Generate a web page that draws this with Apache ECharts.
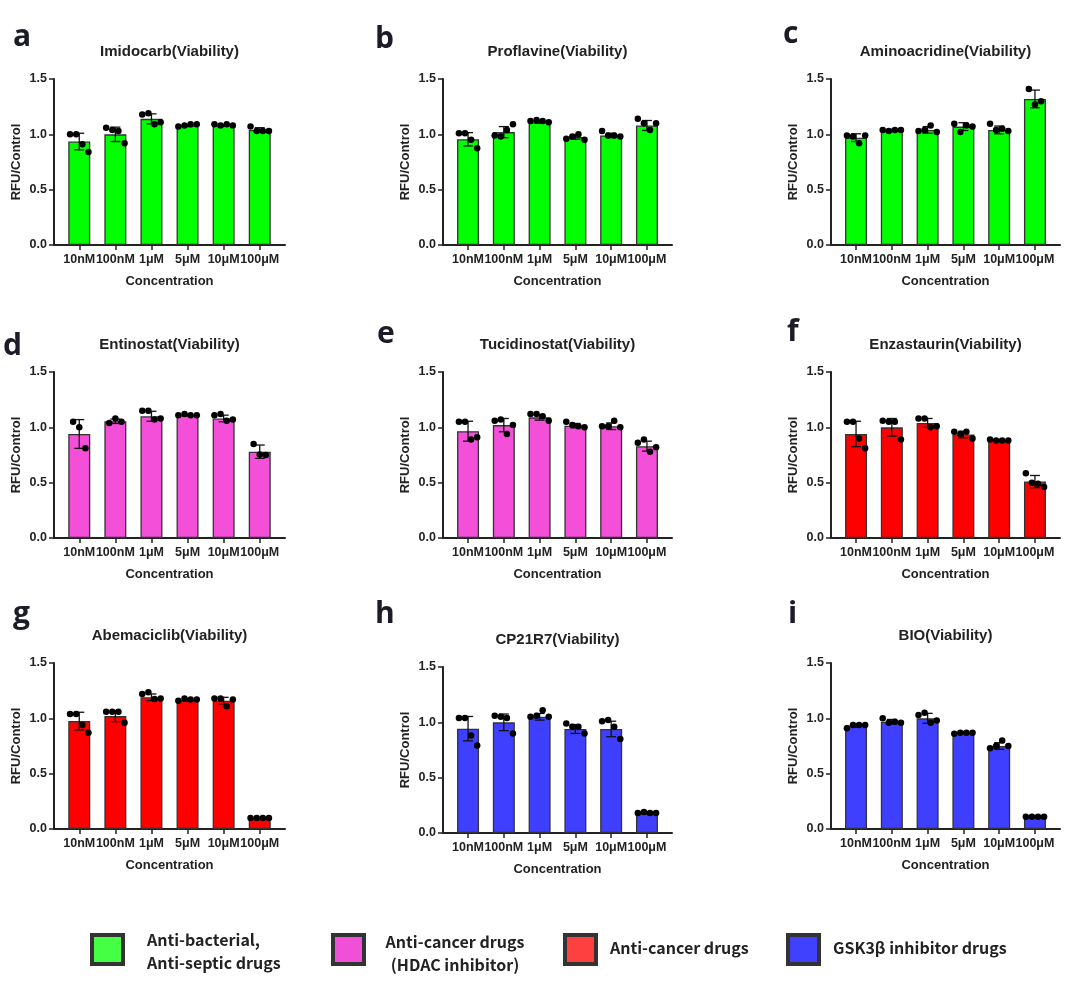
<!DOCTYPE html>
<html>
<head>
<meta charset="utf-8">
<script src="https://cdn.jsdelivr.net/npm/echarts@6/dist/echarts.min.js"></script>
<style>
  html, body { margin: 0; padding: 0; background: #fff; }
  #chart { width: 1080px; height: 1005px; }
</style>
</head>
<body>
<div id="chart"></div>
<script>
// x轴浓度
var concentrations = ['10nM', '100nM', '1μM', '5μM', '10μM', '100μM']
var yTicks = [0, 0.5, 1.0, 1.5]

// 各药物: 均值 / 标准差 / 单个复孔
var imidocarbMean = [0.935, 1.0, 1.14, 1.08, 1.08, 1.04]
var imidocarbSd = [0.075, 0.065, 0.045, 0.01, 0.008, 0.02]
var imidocarbDots = [[1.0, 1.0, 0.91, 0.84], [1.06, 1.04, 1.03, 0.92], [1.18, 1.19, 1.09, 1.11], [1.07, 1.08, 1.09, 1.09], [1.09, 1.08, 1.09, 1.08], [1.07, 1.03, 1.03, 1.03]]

var proflavineMean = [0.955, 1.02, 1.11, 0.975, 0.99, 1.08]
var proflavineSd = [0.06, 0.05, 0.01, 0.02, 0.02, 0.045]
var proflavineDots = [[1.01, 1.01, 0.95, 0.875], [0.99, 0.98, 1.04, 1.09], [1.12, 1.13, 1.12, 1.11], [0.96, 0.98, 1.0, 0.95], [1.03, 0.99, 0.99, 0.98], [1.14, 1.1, 1.04, 1.1]]

var aminoacridineMean = [0.97, 1.035, 1.04, 1.07, 1.04, 1.32]
var aminoacridineSd = [0.035, 0.01, 0.03, 0.035, 0.035, 0.08]
var aminoacridineDots = [[0.99, 0.98, 0.92, 0.99], [1.04, 1.03, 1.04, 1.04], [1.03, 1.04, 1.08, 1.02], [1.095, 1.02, 1.08, 1.07], [1.095, 1.04, 1.05, 1.03], [1.41, 1.27, 1.3]]

var entinostatMean = [0.94, 1.055, 1.1, 1.11, 1.08, 0.78]
var entinostatSd = [0.13, 0.02, 0.045, 0.008, 0.03, 0.06]
var entinostatDots = [[1.05, 1.0, 0.81], [1.04, 1.08, 1.05], [1.15, 1.15, 1.07, 1.08], [1.11, 1.12, 1.11, 1.11], [1.11, 1.12, 1.06, 1.07], [0.85, 0.755, 0.75]]

var tucidinostatMean = [0.965, 1.02, 1.09, 1.015, 1.01, 0.83]
var tucidinostatSd = [0.09, 0.06, 0.025, 0.02, 0.03, 0.045]
var tucidinostatDots = [[1.05, 1.05, 0.89, 0.91], [1.06, 1.07, 0.94, 1.02], [1.12, 1.12, 1.1, 1.06], [1.05, 1.02, 1.01, 1.0], [1.01, 1.01, 1.06, 1.0], [0.86, 0.89, 0.78, 0.82]]

var enzastaurinMean = [0.94, 1.0, 1.04, 0.935, 0.88, 0.51]
var enzastaurinSd = [0.115, 0.08, 0.04, 0.03, 0.008, 0.055]
var enzastaurinDots = [[1.05, 1.05, 0.9, 0.81], [1.06, 1.05, 1.05, 0.89], [1.08, 1.08, 1.0, 1.01], [0.96, 0.94, 0.96, 0.9], [0.89, 0.88, 0.88, 0.88], [0.585, 0.5, 0.49, 0.46]]

var abemaciclibMean = [0.975, 1.02, 1.19, 1.165, 1.16, 0.1]
var abemaciclibSd = [0.08, 0.05, 0.03, 0.01, 0.03, 0.005]
var abemaciclibDots = [[1.04, 1.04, 0.94, 0.87], [1.06, 1.06, 1.06, 0.96], [1.22, 1.235, 1.175, 1.18], [1.16, 1.18, 1.17, 1.17], [1.18, 1.18, 1.11, 1.17], [0.1, 0.1, 0.1, 0.1]]

var cp21r7Mean = [0.943, 1.0, 1.05, 0.94, 0.94, 0.18]
var cp21r7Sd = [0.11, 0.075, 0.03, 0.04, 0.07, 0.01]
var cp21r7Dots = [[1.04, 1.04, 0.88, 0.79], [1.06, 1.05, 1.04, 0.9], [1.05, 1.06, 1.11, 1.05], [0.99, 0.96, 0.96, 0.9], [1.01, 1.02, 0.96, 0.85], [0.18, 0.19, 0.18, 0.18]]

var bioMean = [0.935, 0.97, 1.0, 0.87, 0.75, 0.11]
var bioSd = [0.015, 0.02, 0.045, 0.01, 0.03, 0.005]
var bioDots = [[0.91, 0.94, 0.94, 0.94], [1.0, 0.96, 0.97, 0.96], [1.03, 1.05, 0.96, 0.98], [0.86, 0.87, 0.87, 0.87], [0.73, 0.75, 0.8, 0.75], [0.11, 0.11, 0.11, 0.11]]

// 图例
var groupNames = [['Anti-bacterial,', 'Anti-septic drugs'], ['Anti-cancer drugs', '(HDAC inhibitor)'], ['Anti-cancer drugs'], ['GSK3β inhibitor drugs']]

var barColors = ['#00FF00', '#F44FD8', '#FF0000', '#3F3FFF']
var legendColors = ['#44FF44', '#F050D8', '#FF4040', '#4040FF']

var panels = [
  { letter: 'a', title: 'Imidocarb(Viability)', mean: imidocarbMean, sd: imidocarbSd, dots: imidocarbDots, color: 0, left: 54, top: 79, width: 231, lx: 13, ly: 37 },
  { letter: 'b', title: 'Proflavine(Viability)', mean: proflavineMean, sd: proflavineSd, dots: proflavineDots, color: 0, left: 443, top: 79, width: 229, lx: 375, ly: 39 },
  { letter: 'c', title: 'Aminoacridine(Viability)', mean: aminoacridineMean, sd: aminoacridineSd, dots: aminoacridineDots, color: 0, left: 831, top: 79, width: 229, lx: 783, ly: 34 },
  { letter: 'd', title: 'Entinostat(Viability)', mean: entinostatMean, sd: entinostatSd, dots: entinostatDots, color: 1, left: 54, top: 372, width: 231, lx: 3, ly: 346 },
  { letter: 'e', title: 'Tucidinostat(Viability)', mean: tucidinostatMean, sd: tucidinostatSd, dots: tucidinostatDots, color: 1, left: 443, top: 372, width: 229, lx: 377, ly: 334 },
  { letter: 'f', title: 'Enzastaurin(Viability)', mean: enzastaurinMean, sd: enzastaurinSd, dots: enzastaurinDots, color: 2, left: 831, top: 372, width: 229, lx: 787, ly: 332 },
  { letter: 'g', title: 'Abemaciclib(Viability)', mean: abemaciclibMean, sd: abemaciclibSd, dots: abemaciclibDots, color: 2, left: 54, top: 663, width: 231, lx: 13, ly: 614 },
  { letter: 'h', title: 'CP21R7(Viability)', mean: cp21r7Mean, sd: cp21r7Sd, dots: cp21r7Dots, color: 3, left: 443, top: 667, width: 229, lx: 375, ly: 614 },
  { letter: 'i', title: 'BIO(Viability)', mean: bioMean, sd: bioSd, dots: bioDots, color: 3, left: 831, top: 663, width: 229, lx: 788, ly: 614 },
]

var PLOT_H = 166
var axisColor = '#222'
var labelFont = 'Liberation Sans, Arial, sans-serif'

var grid = []
var xAxis = []
var yAxis = []
var series = []
var graphic = []

panels.forEach(function (p, k) {
  grid.push({ left: p.left, top: p.top, width: p.width, height: PLOT_H, containLabel: false })
  xAxis.push({
    type: 'value',
    gridIndex: k,
    min: -0.7,
    max: 5.7,
    name: 'Concentration',
    nameLocation: 'middle',
    nameGap: 30,
    nameTextStyle: { color: axisColor, fontWeight: 'bold', fontSize: 13, fontFamily: labelFont },
    axisLine: { show: true, onZero: false, lineStyle: { color: axisColor, width: 2 } },
    axisTick: { show: true, length: 5, customValues: [0, 1, 2, 3, 4, 5], lineStyle: { color: axisColor, width: 1.5 } },
    axisLabel: {
      customValues: [0, 1, 2, 3, 4, 5],
      margin: 8,
      color: axisColor,
      fontWeight: 'bold',
      fontSize: 12.5,
      fontFamily: labelFont,
      formatter: function (v) { return concentrations[Math.round(v)] },
    },
    splitLine: { show: false },
  })
  yAxis.push({
    type: 'value',
    gridIndex: k,
    min: 0,
    max: 1.5,
    interval: 0.5,
    name: 'RFU/Control',
    nameLocation: 'middle',
    nameGap: 31,
    nameTextStyle: { color: axisColor, fontWeight: 'bold', fontSize: 13, fontFamily: labelFont },
    axisLine: { show: true, onZero: false, lineStyle: { color: axisColor, width: 2 } },
    axisTick: { show: true, length: 5, lineStyle: { color: axisColor, width: 1.5 } },
    axisLabel: {
      margin: 7,
      color: axisColor,
      fontWeight: 'bold',
      fontSize: 12.5,
      fontFamily: labelFont,
      formatter: function (v) { return v.toFixed(1) },
    },
    splitLine: { show: false },
  })

  // 柱子
  series.push({
    type: 'bar',
    xAxisIndex: k,
    yAxisIndex: k,
    barWidth: 22,
    data: p.mean.map(function (m, i) { return [i, m] }),
    itemStyle: { color: barColors[p.color], borderColor: '#333', borderWidth: 1.3 },
    silent: true,
    z: 2,
  })
  // 误差线 mean ± SD
  series.push({
    type: 'custom',
    xAxisIndex: k,
    yAxisIndex: k,
    encode: { x: 0, y: 1 },
    data: p.mean.map(function (m, i) { return [i, m, p.sd[i]] }),
    renderItem: function (params, api) {
      var x = api.value(0)
      var m = api.value(1)
      var s = api.value(2)
      var hi = api.coord([x, m + s])
      var lo = api.coord([x, m - s])
      var hw = 5
      var st = { stroke: '#111', lineWidth: 1.3 }
      return {
        type: 'group',
        children: [
          { type: 'line', shape: { x1: hi[0], y1: hi[1], x2: lo[0], y2: lo[1] }, style: st },
          { type: 'line', shape: { x1: hi[0] - hw, y1: hi[1], x2: hi[0] + hw, y2: hi[1] }, style: st },
          { type: 'line', shape: { x1: lo[0] - hw, y1: lo[1], x2: lo[0] + hw, y2: lo[1] }, style: st },
        ],
      }
    },
    silent: true,
    z: 3,
  })
  // 复孔散点
  var pts = []
  p.dots.forEach(function (arr, i) {
    arr.forEach(function (v, j) {
      pts.push([i + (j - (arr.length - 1) / 2) * 0.17, v])
    })
  })
  series.push({
    type: 'scatter',
    xAxisIndex: k,
    yAxisIndex: k,
    symbolSize: 6.5,
    data: pts,
    itemStyle: { color: '#000', opacity: 1 },
    silent: true,
    z: 4,
  })

  graphic.push({
    type: 'text',
    x: p.left + p.width / 2,
    y: p.top - 27,
    style: {
      text: p.title,
      textAlign: 'center',
      textVerticalAlign: 'middle',
      font: 'bold 15px ' + labelFont,
      fill: '#222',
    },
  })
  graphic.push({
    type: 'text',
    x: p.lx,
    y: p.ly,
    style: {
      text: p.letter,
      textAlign: 'left',
      textVerticalAlign: 'middle',
      font: 'bold 30px "Open Sans", "Noto Sans", sans-serif',
      fill: '#1c1c28',
    },
  })
})

// 底部分类图例
var legendBoxes = [90, 331, 563, 786]
var legendFont = 'bold 16px "Noto Sans CJK SC", "Noto Sans", sans-serif'
legendBoxes.forEach(function (bx, g) {
  graphic.push({
    type: 'rect',
    shape: { x: bx + 2, y: 935, width: 31, height: 29 },
    style: { fill: legendColors[g], stroke: '#333', lineWidth: 4 },
  })
  var lines = groupNames[g]
  if (lines.length === 1) {
    graphic.push({
      type: 'text',
      x: bx + 47,
      y: 948,
      style: { text: lines[0], textAlign: 'left', textVerticalAlign: 'middle', font: legendFont, fill: '#222' },
    })
  } else if (g === 0) {
    lines.forEach(function (t, li) {
      graphic.push({
        type: 'text',
        x: bx + 57,
        y: 940 + li * 23,
        style: { text: t, textAlign: 'left', textVerticalAlign: 'middle', font: legendFont, fill: '#222' },
      })
    })
  } else {
    lines.forEach(function (t, li) {
      graphic.push({
        type: 'text',
        x: bx + 124,
        y: 942 + li * 23,
        style: { text: t, textAlign: 'center', textVerticalAlign: 'middle', font: legendFont, fill: '#222' },
      })
    })
  }
})

var myChart = echarts.init(document.getElementById('chart'), null, { renderer: 'canvas' })
myChart.setOption({
  backgroundColor: '#fff',
  animation: false,
  grid: grid,
  xAxis: xAxis,
  yAxis: yAxis,
  series: series,
  graphic: graphic,
})
</script>
</body>
</html>
